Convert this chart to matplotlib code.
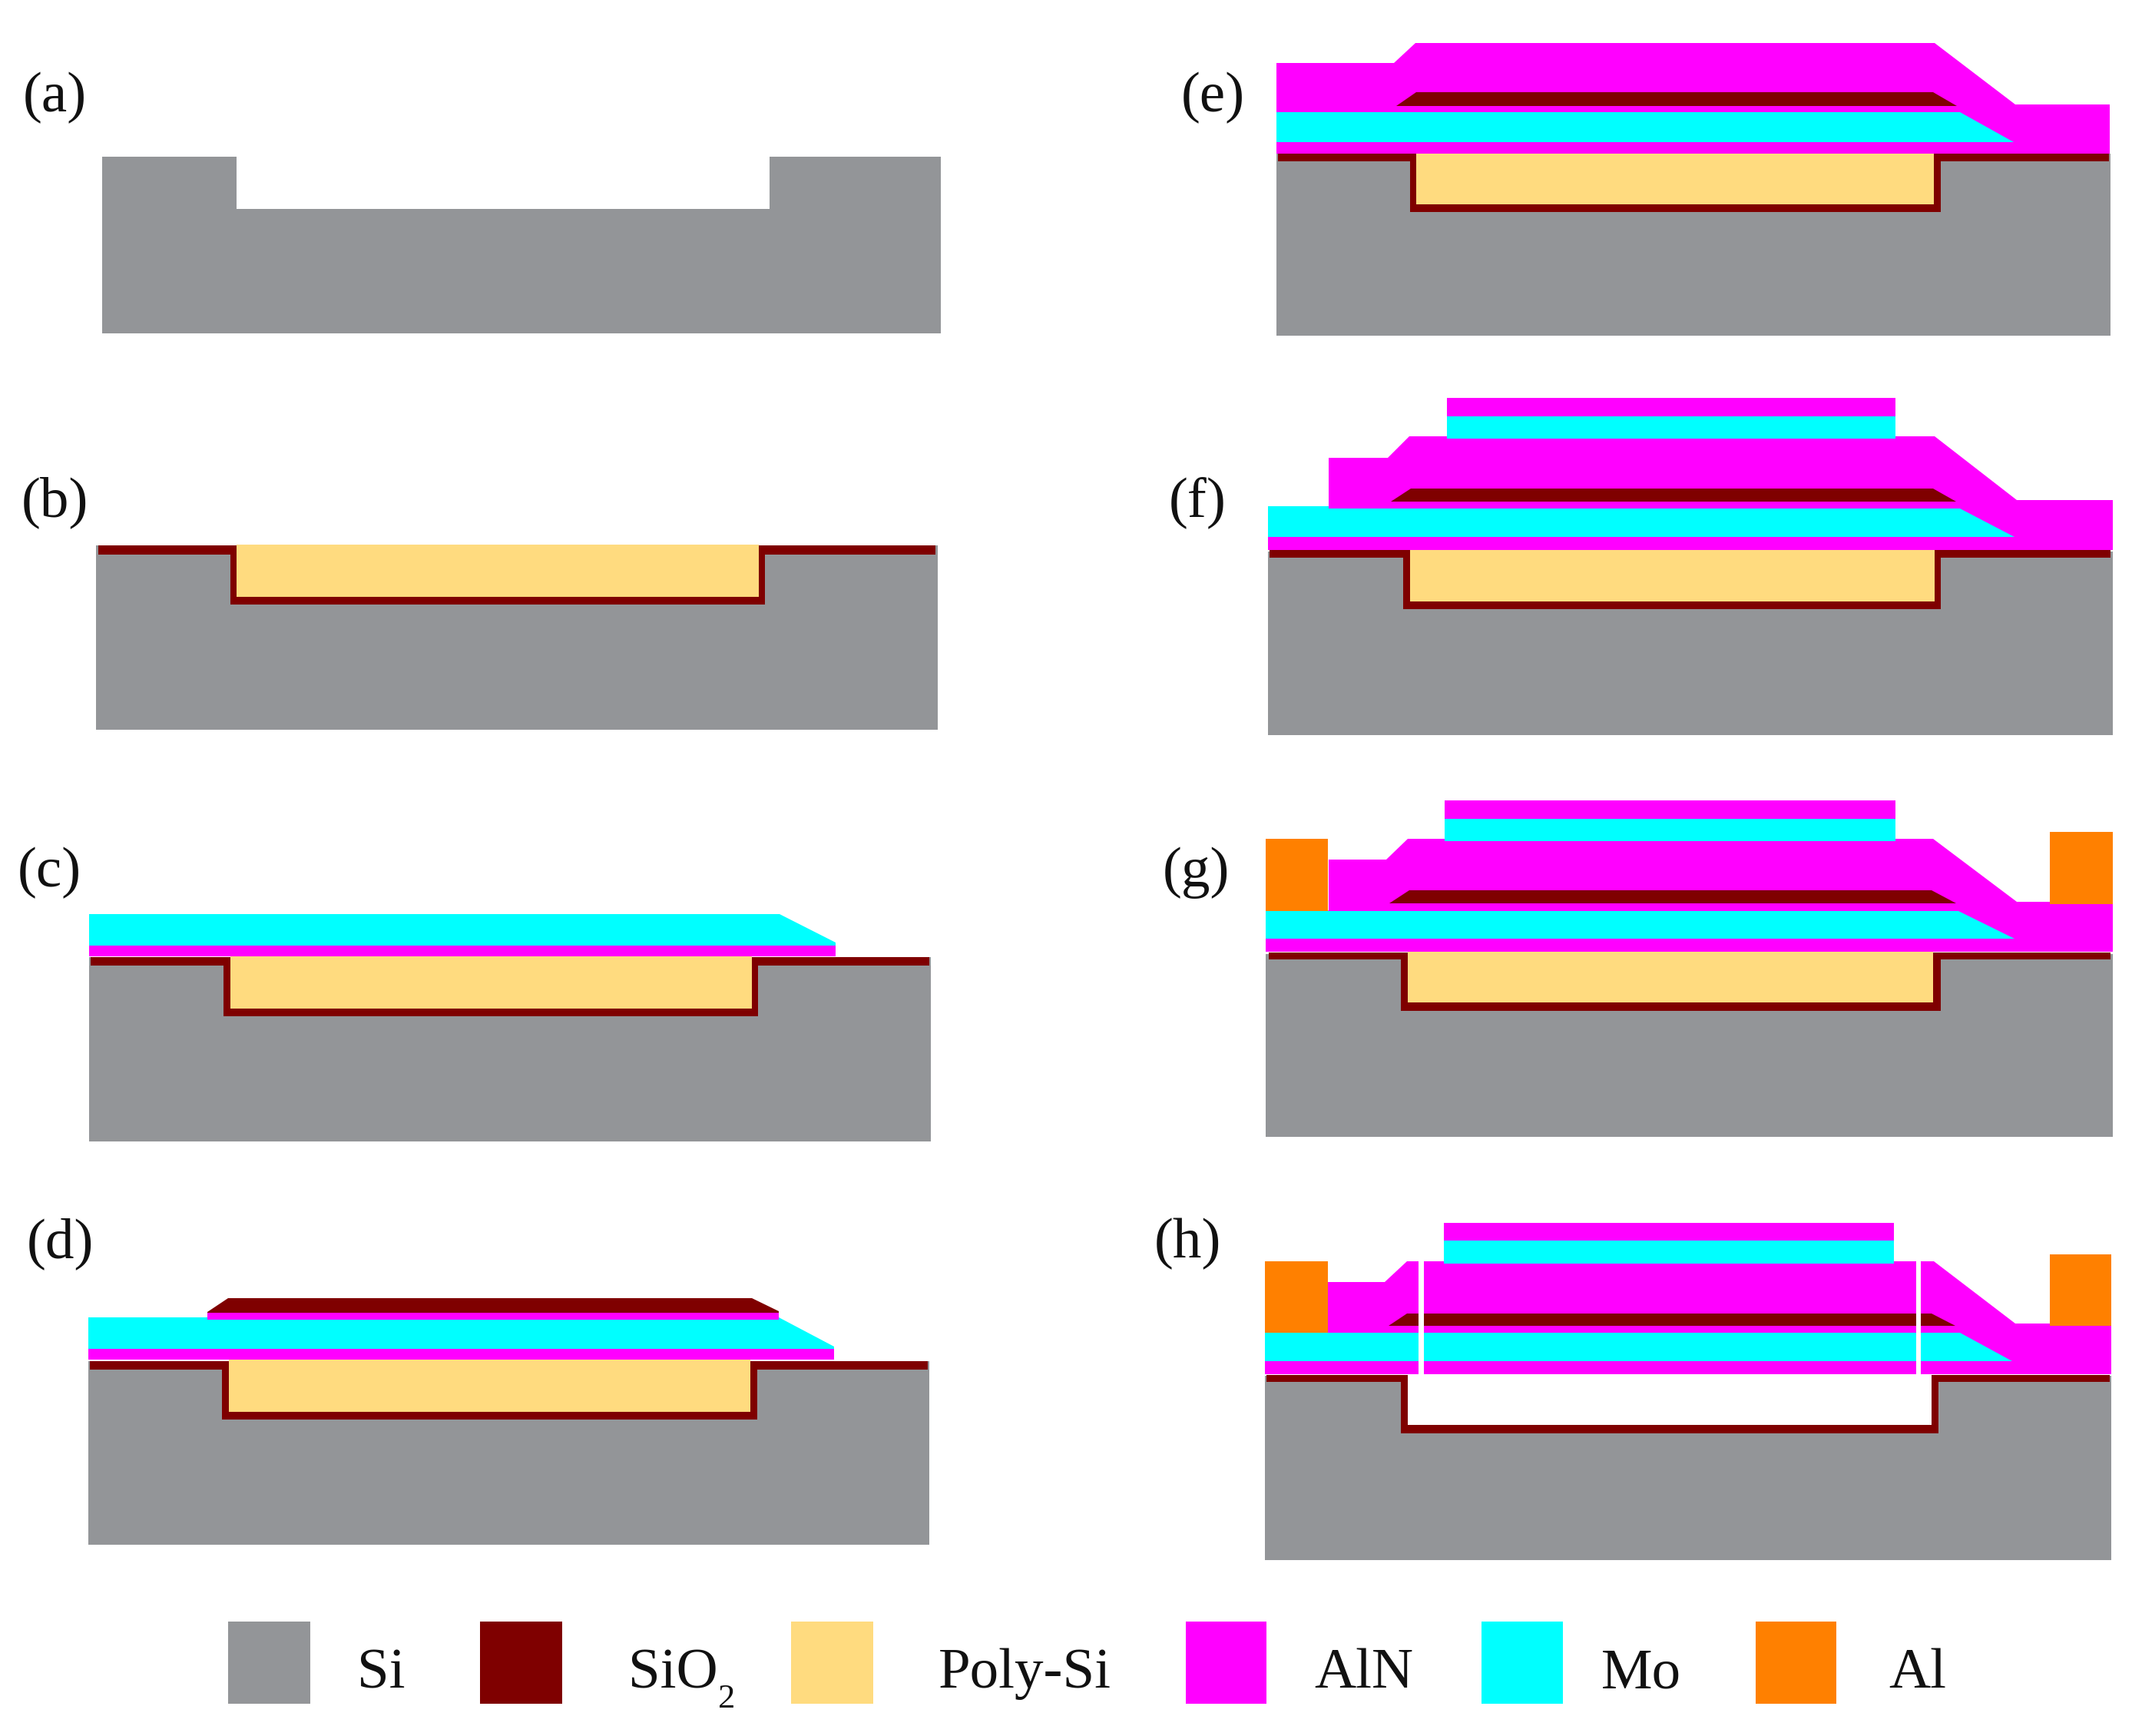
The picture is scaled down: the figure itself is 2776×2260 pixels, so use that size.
import matplotlib
matplotlib.use('Agg')
import matplotlib.pyplot as plt

plt.rcParams['font.family'] = ['Liberation Serif', 'DejaVu Serif']

SI = '#939598'
SIO2 = '#7f0000'
POLY = '#ffdb7f'
ALN = '#ff00ff'
MO = '#00ffff'
AL = '#ff8000'
WHITE = '#ffffff'

labels = ['(a)', '(b)', '(c)', '(d)', '(e)', '(f)', '(g)', '(h)']
label_x = [30, 28, 23, 35, 1538, 1522, 1514, 1503]
label_y = [145, 672, 1154, 1637, 145, 672, 1154, 1637]

legend_names = ['Si', 'SiO', 'Poly-Si', 'AlN', 'Mo', 'Al']
legend_colors = [SI, SIO2, POLY, ALN, MO, AL]
legend_left = [297, 625, 1030, 1544, 1929, 2286]
legend_right = [404, 732, 1137, 1649, 2035, 2391]
legend_text_x = [465, 818, 1222, 1711, 2085, 2459]
subscript_x = 935

# substrate: left, right, top, bottom
si_a = [(133, 204), (308, 204), (308, 272), (1002, 272), (1002, 204),
        (1225, 204), (1225, 434), (133, 434)]
si_b = [125, 1221, 710, 950]
si_c = [116, 1212, 1246, 1486]
si_d = [115, 1210, 1772, 2011]
si_e = [1662, 2748, 200, 437]
si_f = [1651, 2751, 718, 957]
si_g = [1648, 2751, 1242, 1480]
si_h = [1647, 2749, 1791, 2031]

# oxide lining: left, right, top, lower edge, trench left, trench right, trench bottom
ox_b = [128, 1218, 710, 722, 300, 996, 787]
ox_c = [118, 1210, 1246, 1257, 291, 987, 1323]
ox_d = [117, 1208, 1772, 1783, 289, 986, 1848]
ox_e = [1664, 2746, 200, 210, 1836, 2527, 276]
ox_f = [1653, 2748, 716, 726, 1827, 2527, 793]
ox_g = [1652, 2748, 1240, 1249, 1824, 2527, 1316]
ox_h = [1649, 2747, 1790, 1799, 1824, 2524, 1866]

# trench fill: left, right, top, bottom
fill_b = [308, 988, 709, 777]
fill_c = [300, 979, 1245, 1313]
fill_d = [298, 977, 1770, 1838]
fill_e = [1844, 2518, 200, 266]
fill_f = [1836, 2519, 716, 783]
fill_g = [1833, 2517, 1239, 1305]
fill_h = [1833, 2515, 1789, 1855]

# thin film outlines
aln_c = [(116, 1231), (1088, 1231), (1088, 1245), (116, 1245)]
mo_c = [(116, 1190), (1015, 1190), (1088, 1227), (1088, 1231), (116, 1231)]

aln_d = [(115, 1756), (1086, 1756), (1086, 1770), (115, 1770)]
mo_d = [(115, 1715), (1014, 1715), (1086, 1753), (1086, 1756), (115, 1756)]
aln2_d = [(270, 1709), (1014, 1709), (1014, 1718), (270, 1718)]
ox2_d = [(270, 1708), (297, 1690), (979, 1690), (1014, 1707), (1014, 1709), (270, 1709)]

aln_e = [(1662, 82), (1815, 82), (1843, 56), (2519, 56), (2624, 136), (2747, 136),
         (2747, 200), (1662, 200)]
ox2_e = [(1818, 138), (1844, 120), (2517, 120), (2548, 138)]
mo_e = [(1662, 146), (2552, 146), (2622, 185), (1662, 185)]

aln_f = [(1730, 596), (1807, 596), (1835, 568), (2519, 568), (2626, 651), (2751, 651),
         (2751, 716), (1651, 716), (1651, 699), (1730, 662)]
ox2_f = [(1811, 653), (1837, 636), (2517, 636), (2547, 653)]
mo_f = [(1651, 659), (1730, 659), (1730, 662), (2552, 662), (2623, 699), (1651, 699)]
mo2_f = [(1884, 542), (2468, 542), (2468, 571), (1884, 571)]
aln2_f = [(1884, 518), (2468, 518), (2468, 542), (1884, 542)]

aln_g = [(1730, 1119), (1805, 1119), (1833, 1092), (2517, 1092), (2626, 1174), (2751, 1174),
         (2751, 1239), (1648, 1239), (1648, 1222), (1730, 1185)]
ox2_g = [(1809, 1176), (1835, 1159), (2515, 1159), (2547, 1176)]
mo_g = [(1648, 1186), (2550, 1186), (2623, 1222), (1648, 1222)]
mo2_g = [(1881, 1066), (2468, 1066), (2468, 1095), (1881, 1095)]
aln2_g = [(1881, 1042), (2468, 1042), (2468, 1066), (1881, 1066)]
al_left_g = [(1648, 1092), (1729, 1092), (1729, 1186), (1648, 1186)]
al_right_g = [(2669, 1083), (2751, 1083), (2751, 1177), (2669, 1177)]

aln_h = [(1729, 1669), (1803, 1669), (1832, 1642), (2518, 1642), (2624, 1723), (2749, 1723),
         (2749, 1789), (1647, 1789), (1647, 1772), (1729, 1735)]
ox2_h = [(1808, 1726), (1832, 1710), (2515, 1710), (2546, 1726)]
mo_h = [(1647, 1735), (2552, 1735), (2620, 1772), (1647, 1772)]
mo2_h = [(1880, 1615), (2466, 1615), (2466, 1645), (1880, 1645)]
aln2_h = [(1880, 1592), (2466, 1592), (2466, 1615), (1880, 1615)]
al_left_h = [(1647, 1642), (1729, 1642), (1729, 1735), (1647, 1735)]
al_right_h = [(2669, 1633), (2749, 1633), (2749, 1726), (2669, 1726)]
slit_left_h = [(1847, 1642), (1854, 1642), (1854, 1789), (1847, 1789)]
slit_right_h = [(2495, 1642), (2501, 1642), (2501, 1789), (2495, 1789)]


def poly(ax, pts, color):
    ax.fill([p[0] for p in pts], [p[1] for p in pts], color=color, lw=0)


def rect(ax, box, color):
    l, r, t, b = box
    poly(ax, [(l, t), (r, t), (r, b), (l, b)], color)


def base(ax, si, ox, fill, fill_color=POLY):
    rect(ax, si, SI)
    l, r, t, low, tl, tr, bot = ox
    poly(ax, [(l, t), (r, t), (r, low), (tr, low), (tr, bot), (tl, bot), (tl, low), (l, low)], SIO2)
    rect(ax, fill, fill_color)


fig = plt.figure(figsize=(27.76, 22.60), dpi=100)
ax = fig.add_axes([0, 0, 1, 1])
ax.set_xlim(0, 2776)
ax.set_ylim(2260, 0)
ax.axis('off')

poly(ax, si_a, SI)

base(ax, si_b, ox_b, fill_b)

base(ax, si_c, ox_c, fill_c)
poly(ax, mo_c, MO)
poly(ax, aln_c, ALN)

base(ax, si_d, ox_d, fill_d)
poly(ax, mo_d, MO)
poly(ax, aln_d, ALN)
poly(ax, ox2_d, SIO2)
poly(ax, aln2_d, ALN)

base(ax, si_e, ox_e, fill_e)
poly(ax, aln_e, ALN)
poly(ax, ox2_e, SIO2)
poly(ax, mo_e, MO)

base(ax, si_f, ox_f, fill_f)
poly(ax, aln_f, ALN)
poly(ax, ox2_f, SIO2)
poly(ax, mo_f, MO)
poly(ax, mo2_f, MO)
poly(ax, aln2_f, ALN)

base(ax, si_g, ox_g, fill_g)
poly(ax, aln_g, ALN)
poly(ax, ox2_g, SIO2)
poly(ax, mo_g, MO)
poly(ax, mo2_g, MO)
poly(ax, aln2_g, ALN)
poly(ax, al_left_g, AL)
poly(ax, al_right_g, AL)

base(ax, si_h, ox_h, fill_h, WHITE)
poly(ax, aln_h, ALN)
poly(ax, ox2_h, SIO2)
poly(ax, mo_h, MO)
poly(ax, mo2_h, MO)
poly(ax, aln2_h, ALN)
poly(ax, al_left_h, AL)
poly(ax, al_right_h, AL)
poly(ax, slit_left_h, WHITE)
poly(ax, slit_right_h, WHITE)

for s, x, y in zip(labels, label_x, label_y):
    ax.text(x, y, s, fontsize=54, ha='left', va='baseline', color='#111111')

for name, c, l, r, tx in zip(legend_names, legend_colors, legend_left, legend_right, legend_text_x):
    rect(ax, [l, r, 2111, 2218], c)
    ax.text(tx, 2197, name, fontsize=54, ha='left', va='baseline', color='#111111')
# the subscript of SiO2 sits well below the baseline
ax.text(subscript_x, 2223, '2', fontsize=32, ha='left', va='baseline', color='#111111')

fig.savefig('out.png', dpi=100)
